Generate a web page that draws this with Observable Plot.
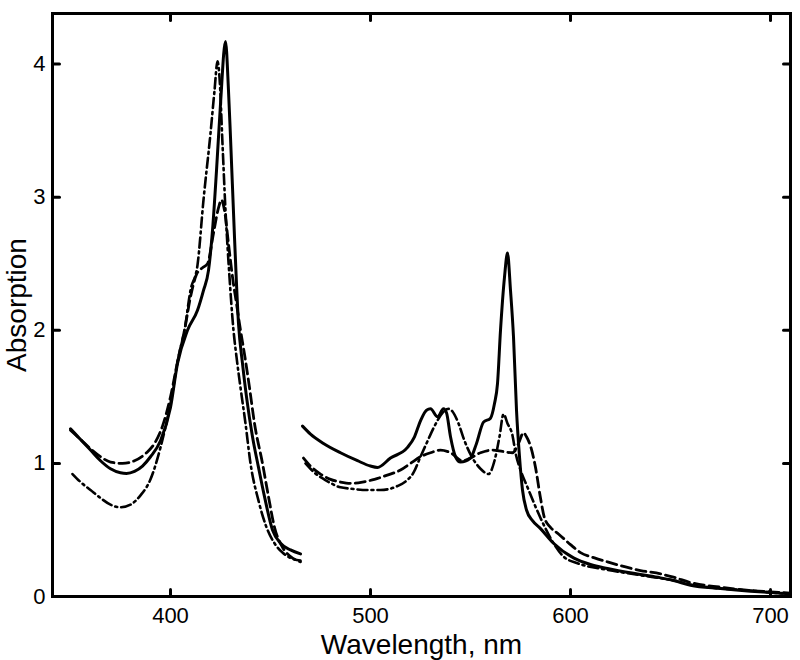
<!DOCTYPE html>
<html>
<head>
<meta charset="utf-8">
<script src="https://cdn.jsdelivr.net/npm/d3@7"></script>
<script src="https://cdn.jsdelivr.net/npm/@observablehq/plot@0.6"></script>
<style>
  html, body { margin: 0; padding: 0; background: #fff; }
  #chart { width: 800px; height: 660px; }
</style>
</head>
<body>
<div id="chart"></div>
<script>
// Tick values
const xTicks = [400, 500, 600, 700];
const yTicks = [0, 1, 2, 3, 4];

// Soret region (350–465 nm): [wavelength, absorption]
const solidSoret = [[350,1.26],[355,1.18],[360,1.10],[365,1.02],[370,0.96],[375,0.93],[378,0.925],[382,0.94],[386,0.98],[390,1.05],[395,1.17],[400,1.42],[403.5,1.75],[408.5,2.0],[413.5,2.15],[416.5,2.3],[419,2.45],[421,2.75],[423,3.2],[425,3.7],[427.5,4.17],[429,3.8],[430,3.45],[432,2.7],[434,2.05],[436,1.75],[438,1.5],[441,1.2],[444,0.97],[447,0.75],[451,0.5],[455,0.4],[460,0.35],[465,0.32]];
const dashedSoret = [[350,1.25],[355,1.18],[360,1.11],[365,1.05],[370,1.01],[376,1.0],[382,1.02],[388,1.08],[392,1.15],[396,1.28],[400,1.5],[404,1.8],[407,2.0],[410,2.25],[413,2.42],[416,2.47],[418.5,2.5],[421.5,2.73],[424,2.92],[425.5,2.98],[427,2.9],[429,2.65],[431,2.4],[433,2.2],[435,2.0],[437,1.82],[439.5,1.57],[442,1.3],[446,1.0],[449,0.75],[452,0.52],[456,0.37],[460,0.3],[465,0.26]];
const dashdotSoret = [[351,0.92],[355,0.86],[360,0.8],[365,0.74],[370,0.69],[375,0.67],[380,0.69],[385,0.76],[390,0.88],[395,1.12],[400,1.45],[404,1.8],[407,2.0],[410,2.3],[413.5,2.49],[416.5,2.98],[420,3.48],[422,3.8],[423.5,4.02],[424.5,3.9],[426,3.4],[427.5,2.9],[429.5,2.4],[431.5,2.0],[433,1.8],[435,1.57],[437.5,1.3],[440,1.0],[444,0.72],[448,0.52],[452,0.4],[456,0.33],[460,0.29],[465,0.27]];

// Q-band region (466–710 nm): [wavelength, absorption]
const solidQ = [[466,1.28],[470,1.22],[476.5,1.15],[485,1.08],[493.5,1.02],[500,0.98],[503.5,0.97],[510,1.04],[518.5,1.12],[522,1.2],[525,1.32],[528,1.4],[530,1.41],[533.5,1.35],[536.5,1.41],[538,1.38],[540,1.2],[542.5,1.05],[545,1.01],[550,1.04],[553,1.15],[556.5,1.31],[560,1.34],[562,1.45],[563.5,1.6],[565,2.0],[567,2.4],[568.5,2.58],[570,2.3],[571.5,1.95],[573,1.4],[574.5,1.05],[576,0.8],[578,0.65],[581,0.57],[585,0.51],[591.5,0.4],[601.5,0.29],[610,0.24],[618.5,0.21],[635,0.165],[645,0.14],[651.5,0.12],[660,0.085],[675,0.06],[690,0.04],[700,0.03],[710,0.02]];
const dashedQ = [[466.5,1.04],[470,0.98],[475,0.92],[480,0.88],[485,0.86],[490,0.85],[496,0.86],[502,0.88],[508,0.91],[515,0.95],[520,1.0],[525,1.05],[530,1.08],[535,1.1],[540,1.08],[546,1.02],[550,1.04],[555,1.08],[561,1.1],[566,1.09],[571,1.08],[574,1.15],[576.5,1.23],[578,1.2],[580,1.13],[582.5,0.97],[585,0.74],[587,0.59],[590,0.52],[594,0.47],[600,0.39],[605,0.33],[612,0.29],[618.5,0.26],[635,0.195],[645,0.17],[651.5,0.145],[660,0.105],[675,0.07],[690,0.045],[700,0.035],[710,0.025]];
const dashdotQ = [[467.5,1.0],[472,0.93],[478,0.87],[485,0.82],[490,0.81],[498.5,0.8],[505,0.8],[513.5,0.83],[518,0.87],[521.5,0.93],[525,1.05],[528,1.15],[532,1.28],[536,1.38],[539,1.41],[541,1.39],[544,1.3],[547,1.17],[551,1.04],[555,0.96],[559,0.92],[562,1.02],[564.5,1.2],[566.5,1.37],[568.5,1.3],[571,1.21],[572.5,1.08],[575,0.95],[578.5,0.82],[585,0.59],[591.5,0.4],[596.5,0.3],[603.5,0.25],[618.5,0.2],[635,0.16],[651.5,0.12],[660,0.09],[675,0.06],[690,0.045],[700,0.03],[710,0.02]];

const toRows = (pairs, seg) => pairs.map(([x, y]) => ({x, y, seg}));
const solidRows = [...toRows(solidSoret, "a"), ...toRows(solidQ, "b")];
const dashedRows = [...toRows(dashedSoret, "a"), ...toRows(dashedQ, "b")];
const dashdotRows = [...toRows(dashdotSoret, "a"), ...toRows(dashdotQ, "b")];

const tickLen = 7;
const font = "'Liberation Sans', Arial, Helvetica, sans-serif";
const lineOpts = {x: "x", y: "y", z: "seg", stroke: "black", strokeWidth: 3, curve: "monotone-x", strokeLinejoin: "round"};
const fmt = d => String(d);
// plain straight tick shape for the vector mark (no arrowhead)
const tickShape = {draw(context, l) { context.moveTo(0, 0); context.lineTo(0, -l); }};
const vec = {length: tickLen, anchor: "start", shape: tickShape, stroke: "black", strokeWidth: 3};

const chart = Plot.plot({
  width: 800,
  height: 660,
  marginLeft: 52,
  marginRight: 10,
  marginTop: 13,
  marginBottom: 64,
  style: {fontFamily: font, background: "white", color: "black"},
  x: {domain: [341, 710]},
  y: {domain: [0, 4.38]},
  marks: [
    Plot.line(solidRows, lineOpts),
    Plot.line(dashedRows, {...lineOpts, strokeWidth: 2.8, strokeDasharray: "10,5"}),
    Plot.line(dashdotRows, {...lineOpts, strokeWidth: 2.6, strokeDasharray: "10,4,2,4"}),
    // tick labels
    Plot.axisX(xTicks, {anchor: "bottom", tickSize: 0, tickPadding: 11, fontSize: 22, tickFormat: fmt, label: null}),
    Plot.axisY(yTicks, {anchor: "left", tickSize: 0, tickPadding: 7, fontSize: 22, tickFormat: fmt, label: null}),
    // inward ticks on all four sides
    Plot.vector(xTicks, {...vec, x: d => d, frameAnchor: "bottom", rotate: 0}),
    Plot.vector(xTicks, {...vec, x: d => d, frameAnchor: "top", rotate: 180}),
    Plot.vector(yTicks, {...vec, y: d => d, frameAnchor: "left", rotate: 90}),
    Plot.vector(yTicks, {...vec, y: d => d, frameAnchor: "right", rotate: -90}),
    // axis titles
    Plot.axisX([], {anchor: "bottom", tickSize: 0, label: "Wavelength, nm", labelAnchor: "center", labelArrow: "none", labelOffset: 57, fontSize: 28}),
    Plot.axisY([], {anchor: "left", tickSize: 0, label: "Absorption", labelAnchor: "center", labelArrow: "none", labelOffset: 46, fontSize: 28}),
    Plot.frame({stroke: "black", strokeWidth: 3})
  ]
});
document.getElementById("chart").appendChild(chart);
</script>
</body>
</html>
